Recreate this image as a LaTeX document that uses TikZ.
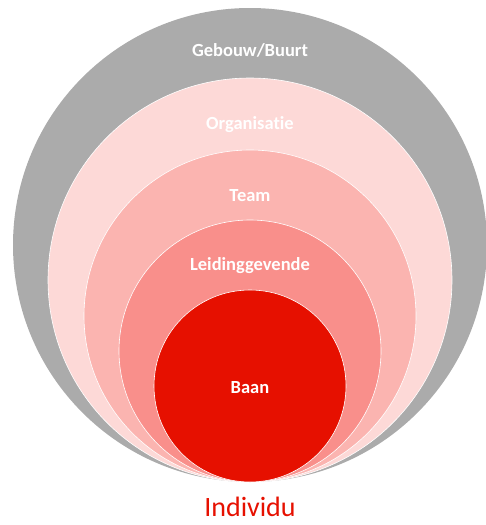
\documentclass[tikz,border=0pt]{standalone}
\usepackage{fontspec}
\setmainfont{Carlito}[Ligatures=NoCommon]
\usetikzlibrary{positioning}

\definecolor{buurtgray}{RGB}{171,171,171}
\definecolor{orgpink}{RGB}{253,217,215}
\definecolor{teampink}{RGB}{251,180,176}
\definecolor{leidpink}{RGB}{249,143,139}
\definecolor{baanred}{RGB}{230,16,0}

\begin{document}
\begin{tikzpicture}[x=1pt,y=-1pt,
    ring/.style={circle,draw=white,line width=0.6pt,inner sep=0pt},
    ringlabel/.style={text=white,font=\fontsize{18.5}{22}\selectfont\bfseries}]
  \useasboundingbox (0,0) rectangle (485,525);
  % circles, all touching at the bottom
  \node[ring,draw=none,fill=buurtgray,minimum size=474pt] (gebouw) at (250,245) {};
  \node[ring,fill=orgpink,minimum size=404pt] (organisatie) at (250,280) {};
  \node[ring,fill=teampink,minimum size=332pt] (team) at (250,316) {};
  \node[ring,fill=leidpink,minimum size=262pt] (leiding) at (250,351) {};
  \node[ring,fill=baanred,minimum size=192pt] (baan) at (250,386) {};
  % labels
  \node[ringlabel] (gebouwtext) at (250,50) {Gebouw/Buurt};
  \node[ringlabel] (orgtext) at (250,125) {Organisatie};
  \node[ringlabel] (teamtext) at (250,196) {Team};
  \node[ringlabel] (leidtext) at (250,266) {Leidinggevende};
  \node[ringlabel] (baantext) at (250,388) {Baan};
  \node[text=baanred,font=\fontsize{28}{32}\selectfont] (individu) at (250,507) {Individu};
\end{tikzpicture}
\end{document}
